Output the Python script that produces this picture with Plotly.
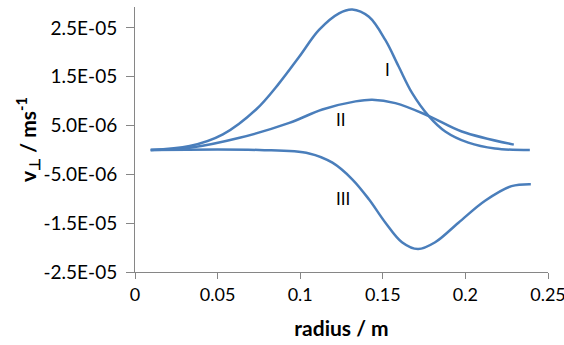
import plotly.graph_objects as go

r_I = [0.0095, 0.0331, 0.0532, 0.0733, 0.0873, 0.0994, 0.1114, 0.1235, 0.1315, 0.1416, 0.1516,
       0.1596, 0.1677, 0.1777, 0.1878, 0.2018, 0.2179, 0.239]
v_I = [0, 0.8e-6, 3.2e-6, 8.3e-6, 1.37e-5, 1.91e-5, 2.46e-5, 2.8e-5, 2.88e-5, 2.73e-5, 2.25e-5,
       1.71e-5, 1.17e-5, 7.0e-6, 3.8e-6, 1.5e-6, 0.3e-6, 0]

r_II = [0.0095, 0.0331, 0.0633, 0.0934, 0.1134, 0.1335, 0.1436, 0.1576, 0.1777, 0.1978, 0.2293]
v_II = [0, 0.45e-6, 2.5e-6, 5.55e-6, 8.3e-6, 9.96e-6, 1.03e-5, 9.6e-6, 7.0e-6, 3.8e-6, 1.1e-6]

r_III = [0.0095, 0.0753, 0.1054, 0.1195, 0.1315, 0.1416, 0.1516, 0.1616, 0.1713, 0.1817, 0.1958,
         0.2119, 0.2279, 0.2396]
v_III = [0, 0, -0.7e-6, -2.6e-6, -6.0e-6, -1.01e-5, -1.49e-5, -1.89e-5, -2.03e-5, -1.89e-5, -1.49e-5,
         -1.04e-5, -7.4e-6, -7.0e-6]

labels = ["I", "II", "III"]
label_r = [0.153, 0.1245, 0.126]
label_v = [1.64e-5, 6.2e-6, -9.9e-6]

y_ticks = [-2.5e-5, -1.5e-5, -5e-6, 5e-6, 1.5e-5, 2.5e-5]
y_ticktext = ["-2.5E-05", "-1.5E-05", "-5.0E-06", "5.0E-06", "1.5E-05", "2.5E-05"]
x_ticks = [0, 0.05, 0.1, 0.15, 0.2, 0.25]
x_ticktext = ["0", "0.05", "0.1", "0.15", "0.2", "0.25"]

color = "#4a7ebb"
fig = go.Figure()
for rr, vv in [(r_I, v_I), (r_II, v_II), (r_III, v_III)]:
    fig.add_trace(go.Scatter(x=rr, y=vv, mode="lines",
                             line=dict(color=color, width=2.5, shape="spline", smoothing=1.0),
                             showlegend=False, hoverinfo="skip"))

for t, xr, yv in zip(labels, label_r, label_v):
    fig.add_annotation(x=xr, y=yv, text=t, showarrow=False,
                       font=dict(family="Lato, sans-serif", size=17, color="#000"))

fig.update_layout(
    width=564, height=345,
    margin=dict(l=135, r=16, t=7, b=73),
    paper_bgcolor="white", plot_bgcolor="white",
    font=dict(family="Lato, sans-serif", size=18, color="#000"),
)
fig.update_xaxes(range=[0, 0.25], tickvals=x_ticks, ticktext=x_ticktext, showgrid=False, zeroline=False,
                 showline=True, linecolor="#868686", linewidth=1, ticks="outside", ticklen=6,
                 tickcolor="#868686", tickfont=dict(size=18), ticklabeloverflow="allow", automargin=False,
                 title=dict(text="<b>radius / m</b>", font=dict(size=21), standoff=17))
fig.update_yaxes(range=[-2.5e-5, 2.93e-5], tickvals=y_ticks, ticktext=y_ticktext, showgrid=False,
                 zeroline=False, showline=True, linecolor="#868686", linewidth=1, ticks="outside",
                 ticklen=8, tickcolor="#868686", tickfont=dict(size=19), ticklabelstandoff=5, automargin=False,
                 title=dict(text="<b>v<sub>⊥</sub> / ms<sup>-1</sup></b>", font=dict(size=21), standoff=1))

fig.write_html("out.html")
